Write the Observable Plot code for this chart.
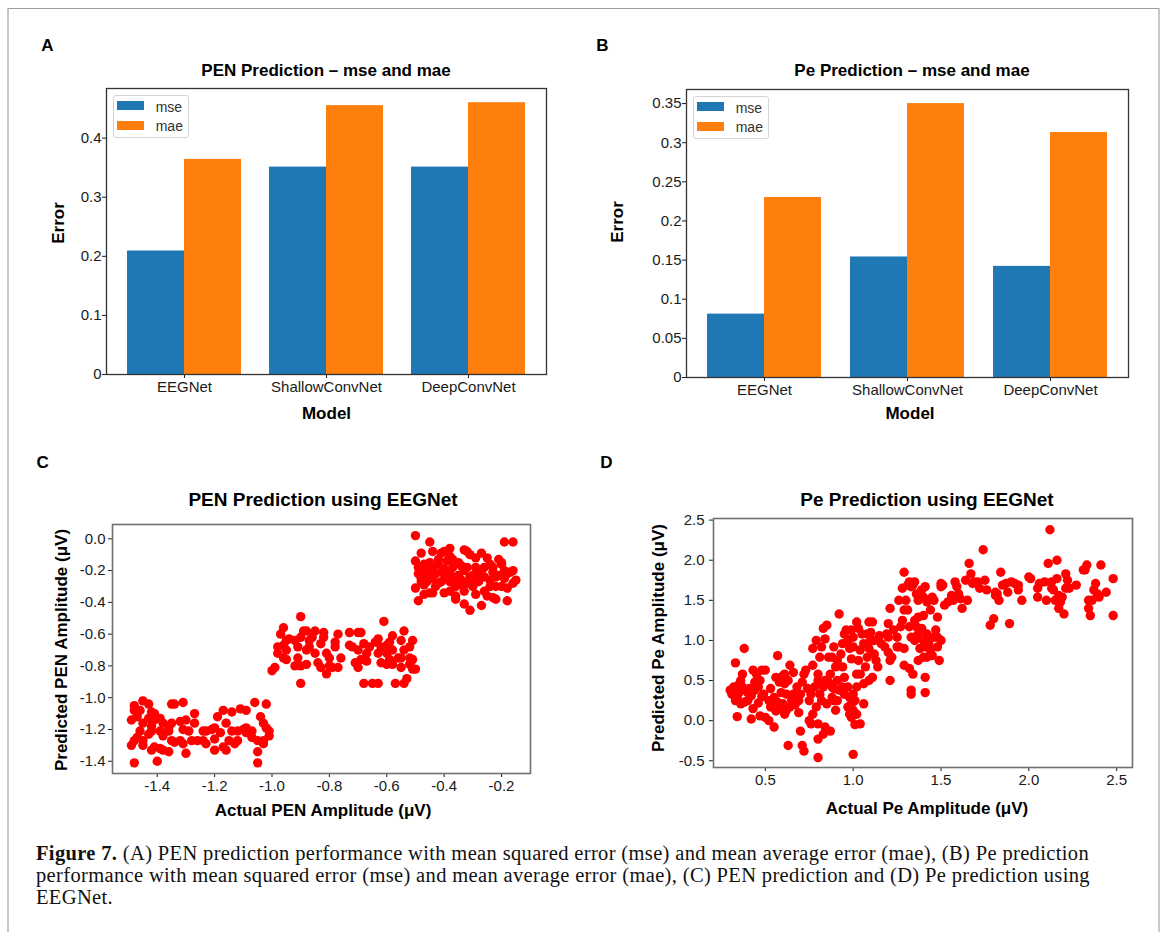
<!DOCTYPE html>
<html><head><meta charset="utf-8">
<script src="https://cdn.jsdelivr.net/npm/d3@7"></script>
<script src="https://cdn.jsdelivr.net/npm/@observablehq/plot@0.6"></script>
<style>
body{margin:0;background:#fff;}
#fig{position:relative;width:1167px;height:932px;background:#fff;overflow:hidden;font-family:"Liberation Sans",Arial,sans-serif;color:#000;}
.t{position:absolute;white-space:nowrap;line-height:1;}
.cap{position:absolute;left:36px;top:842px;font-family:"Liberation Serif","Times New Roman",serif;font-size:20.5px;line-height:22px;white-space:nowrap;color:#111;letter-spacing:0.35px;}
</style></head><body><div id="fig"></div><script>
// ---------- data ----------
const models = ["EEGNet", "ShallowConvNet", "DeepConvNet"];
const metrics = ["mse", "mae"];
const metricColors = ["#1f77b4", "#ff7f0e"];
const penMse = [0.209, 0.351, 0.351];
const penMae = [0.364, 0.455, 0.460];
const peMse = [0.081, 0.154, 0.142];
const peMae = [0.230, 0.350, 0.313];
const penErrorTicks = [0, 0.1, 0.2, 0.3, 0.4];
const peErrorTicks = [0, 0.05, 0.1, 0.15, 0.2, 0.25, 0.3, 0.35];
const penAmpTicksX = [-1.4, -1.2, -1.0, -0.8, -0.6, -0.4, -0.2];
const penAmpTicksY = [0, -0.2, -0.4, -0.6, -0.8, -1.0, -1.2, -1.4];
const peAmpTicksX = [0.5, 1.0, 1.5, 2.0, 2.5];
const peAmpTicksY = [2.5, 2.0, 1.5, 1.0, 0.5, 0.0, -0.5];

// PEN: [actual, predicted]
const penPoints = [
[-1.48,-1.41],[-1.40,-1.40],[-1.49,-1.30],[-1.49,-1.14],[-1.48,-1.08],[-1.48,-1.05],[-1.45,-1.02],[-1.43,-1.04],[-1.46,-1.08],[-1.47,-1.12],
[-1.45,-1.16],[-1.43,-1.13],[-1.42,-1.09],[-1.41,-1.10],[-1.46,-1.21],[-1.47,-1.25],[-1.48,-1.27],[-1.45,-1.27],[-1.45,-1.30],[-1.43,-1.23],
[-1.42,-1.18],[-1.42,-1.21],[-1.41,-1.14],[-1.39,-1.13],[-1.38,-1.16],[-1.39,-1.21],[-1.36,-1.19],[-1.36,-1.21],[-1.38,-1.24],[-1.42,-1.33],
[-1.41,-1.31],[-1.39,-1.32],[-1.38,-1.33],[-1.36,-1.34],[-1.35,-1.16],[-1.35,-1.04],[-1.34,-1.04],[-1.31,-1.03],[-1.32,-1.15],[-1.30,-1.14],
[-1.31,-1.20],[-1.29,-1.21],[-1.28,-1.27],[-1.27,-1.10],[-1.27,-1.16],[-1.30,-1.35],[-1.34,-1.28],[-1.32,-1.27],[-1.31,-1.29],[-1.35,-1.27],
[-1.26,-1.27],[-1.24,-1.27],[-1.23,-1.29],[-1.24,-1.21],[-1.23,-1.21],[-1.21,-1.20],[-1.20,-1.19],[-1.20,-1.26],[-1.19,-1.12],[-1.17,-1.08],
[-1.14,-1.09],[-1.16,-1.16],[-1.14,-1.21],[-1.15,-1.27],[-1.16,-1.33],[-1.13,-1.29],[-1.12,-1.27],[-1.12,-1.21],[-1.11,-1.07],[-1.09,-1.08],
[-1.09,-1.19],[-1.07,-1.25],[-1.06,-1.03],[-1.02,-1.04],[-1.04,-1.12],[-1.03,-1.16],[-1.02,-1.19],[-1.01,-1.21],[-1.01,-1.24],[-1.03,-1.27],
[-1.03,-1.29],[-1.05,-1.34],[-1.05,-1.41],[-1.09,-1.22],[-1.05,-1.27],[-1.07,-1.21],[-1.10,-1.20],[-1.18,-1.22],[-1.17,-1.31],[-1.20,-1.33],
[-1.00,-0.83],[-0.99,-0.81],[-0.98,-0.68],[-0.96,-0.67],[-0.95,-0.64],[-0.96,-0.56],[-0.97,-0.60],[-0.98,-0.72],[-0.96,-0.75],[-0.95,-0.76],
[-0.95,-0.70],[-0.94,-0.63],[-0.92,-0.64],[-0.91,-0.68],[-0.90,-0.49],[-0.91,-0.75],[-0.92,-0.80],[-0.90,-0.62],[-0.89,-0.58],[-0.88,-0.58],
[-0.87,-0.64],[-0.88,-0.70],[-0.87,-0.68],[-0.86,-0.62],[-0.85,-0.72],[-0.84,-0.78],[-0.88,-0.79],[-0.90,-0.80],[-0.90,-0.91],[-0.85,-0.58],
[-0.83,-0.66],[-0.82,-0.62],[-0.82,-0.59],[-0.81,-0.72],[-0.80,-0.75],[-0.78,-0.65],[-0.78,-0.68],[-0.77,-0.60],[-0.79,-0.81],[-0.77,-0.81],
[-0.81,-0.85],[-0.80,-0.80],[-0.83,-0.81],[-0.76,-0.75],[-0.73,-0.59],[-0.73,-0.67],[-0.70,-0.59],[-0.69,-0.59],[-0.72,-0.68],[-0.70,-0.70],
[-0.68,-0.66],[-0.67,-0.72],[-0.69,-0.76],[-0.70,-0.81],[-0.71,-0.78],[-0.67,-0.77],[-0.68,-0.91],[-0.65,-0.91],[-0.63,-0.91],[-0.66,-0.68],
[-0.64,-0.65],[-0.63,-0.63],[-0.62,-0.68],[-0.61,-0.52],[-0.62,-0.78],[-0.63,-0.72],[-0.60,-0.72],[-0.60,-0.67],[-0.58,-0.70],[-0.58,-0.61],
[-0.58,-0.79],[-0.57,-0.91],[-0.56,-0.75],[-0.55,-0.64],[-0.55,-0.75],[-0.54,-0.58],[-0.54,-0.70],[-0.53,-0.88],[-0.54,-0.91],[-0.52,-0.79],
[-0.52,-0.75],[-0.51,-0.64],[-0.51,-0.76],[-0.50,-0.82],[-0.51,-0.82],[-0.52,-0.68],[-0.55,-0.81],[-0.59,-0.76],[-0.60,-0.79],[-0.59,-0.65],
[-0.50,0.02],[-0.45,-0.02],[-0.44,-0.08],[-0.48,-0.09],[-0.50,-0.14],[-0.49,-0.18],[-0.49,-0.22],[-0.48,-0.27],[-0.50,-0.31],[-0.49,-0.39],
[-0.47,-0.35],[-0.45,-0.34],[-0.47,-0.24],[-0.48,-0.20],[-0.47,-0.16],[-0.45,-0.15],[-0.45,-0.19],[-0.44,-0.25],[-0.43,-0.22],[-0.42,-0.28],
[-0.44,-0.34],[-0.42,-0.13],[-0.41,-0.09],[-0.40,-0.08],[-0.39,-0.14],[-0.38,-0.06],[-0.38,-0.11],[-0.40,-0.19],[-0.39,-0.25],[-0.41,-0.27],
[-0.40,-0.34],[-0.38,-0.33],[-0.37,-0.24],[-0.37,-0.18],[-0.36,-0.38],[-0.36,-0.30],[-0.35,-0.23],[-0.34,-0.26],[-0.34,-0.17],[-0.33,-0.20],
[-0.33,-0.07],[-0.32,-0.08],[-0.31,-0.10],[-0.31,-0.24],[-0.32,-0.28],[-0.33,-0.33],[-0.33,-0.41],[-0.31,-0.45],[-0.30,-0.30],[-0.30,-0.23],
[-0.29,-0.18],[-0.29,-0.12],[-0.27,-0.20],[-0.28,-0.27],[-0.27,-0.42],[-0.26,-0.33],[-0.26,-0.24],[-0.25,-0.12],[-0.24,-0.16],[-0.24,-0.26],
[-0.23,-0.21],[-0.23,-0.37],[-0.22,-0.38],[-0.22,-0.30],[-0.21,-0.23],[-0.20,-0.16],[-0.20,-0.15],[-0.19,-0.20],[-0.19,-0.25],[-0.18,-0.31],
[-0.18,-0.39],[-0.17,-0.21],[-0.16,-0.20],[-0.15,-0.26],[-0.16,-0.28],[-0.19,-0.02],[-0.16,-0.02],[-0.21,-0.13],[-0.23,-0.18],[-0.29,-0.35],
[-0.37,-0.13],[-0.41,-0.21],[-0.42,-0.16],[-0.46,-0.27],[-0.47,-0.29],[-0.38,-0.20],[-0.36,-0.27],[-0.36,-0.36],[-0.27,-0.09],[-0.25,-0.36],
[-0.20,-0.30],[-0.46,-0.21],[-0.43,-0.30],[-0.35,-0.15],[-0.32,-0.18],[-0.30,-0.26],[-0.26,-0.18],[-0.22,-0.24],[-0.18,-0.22],[-0.48,-0.25],
[-0.40,-0.22],[-0.34,-0.29],[-0.28,-0.22],[-0.24,-0.30],[-0.44,-0.18],[-0.38,-0.27]
];

// Pe: [actual, predicted]
const pePoints = [
[0.30,0.38],[0.31,0.33],[0.32,0.42],[0.33,0.25],[0.34,0.29],[0.35,0.35],[0.36,0.21],[0.34,0.05],[0.33,0.72],[0.37,0.42],
[0.37,0.58],[0.38,0.90],[0.39,0.38],[0.40,0.35],[0.40,0.25],[0.41,0.40],[0.42,0.31],[0.36,0.50],[0.38,0.23],[0.43,0.63],
[0.44,0.48],[0.45,0.58],[0.46,0.42],[0.47,0.50],[0.48,0.63],[0.49,0.33],[0.50,0.63],[0.42,0.02],[0.43,0.15],[0.47,0.06],
[0.50,0.04],[0.52,0.00],[0.55,-0.08],[0.52,0.25],[0.53,0.17],[0.55,0.29],[0.56,0.54],[0.57,0.81],[0.58,0.48],[0.59,0.35],
[0.60,0.56],[0.61,0.46],[0.61,0.58],[0.62,0.33],[0.60,0.21],[0.61,0.08],[0.57,0.23],[0.64,0.17],[0.65,0.25],[0.66,0.33],
[0.68,0.42],[0.63,0.50],[0.66,0.60],[0.64,0.69],[0.62,0.13],[0.69,0.25],[0.70,0.33],[0.71,0.48],[0.72,0.58],[0.73,0.63],
[0.74,0.40],[0.75,0.25],[0.76,0.33],[0.77,0.69],[0.78,0.42],[0.71,-0.31],[0.72,-0.38],[0.70,-0.13],[0.75,0.00],[0.77,0.08],
[0.76,-0.04],[0.79,0.17],[0.80,0.50],[0.80,0.58],[0.81,0.33],[0.82,0.25],[0.83,0.42],[0.84,0.50],[0.63,-0.31],[0.80,-0.46],
[0.33,0.40],[0.35,0.45],[0.44,0.38],[0.48,0.30],[0.53,0.40],[0.56,0.12],[0.58,0.15],[0.67,0.20],[0.69,0.10],[0.46,0.22],
[0.77,0.90],[0.79,1.00],[0.81,0.79],[0.82,0.92],[0.83,1.15],[0.85,1.19],[0.84,1.02],[0.86,0.79],[0.87,0.58],[0.88,0.42],
[0.89,0.25],[0.90,0.13],[0.85,0.21],[0.84,-0.08],[0.80,-0.04],[0.80,-0.23],[0.83,-0.17],[0.87,-0.13],[0.89,0.40],[0.91,0.50],
[0.92,1.33],[0.91,0.75],[0.93,0.83],[0.94,0.96],[0.95,1.08],[0.96,1.13],[0.97,1.00],[0.98,0.90],[0.99,0.77],[0.90,0.67],
[0.89,0.92],[0.88,0.79],[0.94,0.67],[0.95,0.54],[0.97,0.42],[0.98,0.29],[0.99,0.21],[1.00,0.13],[1.00,0.33],[1.01,0.25],
[1.02,0.08],[1.01,-0.05],[1.04,-0.04],[1.06,0.21],[1.00,-0.42],[1.02,0.58],[1.03,0.75],[1.04,0.88],[1.06,0.96],[1.05,1.08],
[1.02,1.23],[1.03,1.15],[0.99,1.13],[1.00,1.04],[1.00,0.92],[0.94,0.42],[0.91,0.25],[0.86,0.48],[0.88,0.29],[0.92,0.38],
[0.95,0.33],[0.97,0.17],[0.98,0.08],[0.99,0.04],[1.02,0.42],[1.04,0.58],[1.07,0.67],[1.08,0.79],[1.09,0.90],[1.10,1.00],
[1.09,1.23],[1.11,1.23],[1.10,1.10],[1.12,0.83],[1.13,0.75],[1.14,0.67],[1.09,0.50],[1.11,0.54],[1.06,0.46],[1.08,1.08],
[1.12,1.00],
[1.15,1.06],[1.16,0.96],[1.18,0.92],[1.19,1.08],[1.20,1.04],[1.21,1.40],[1.20,1.21],[1.21,0.75],[1.22,0.79],[1.21,0.50],
[1.20,0.85],[1.23,1.13],[1.25,1.04],[1.26,0.92],[1.27,1.17],[1.28,1.25],[1.29,1.38],[1.30,1.50],[1.31,1.69],[1.32,1.73],
[1.33,1.67],[1.29,1.85],[1.31,1.38],[1.34,1.69],[1.35,1.73],[1.32,1.17],[1.33,1.04],[1.35,1.25],[1.36,1.17],[1.37,1.08],
[1.39,1.15],[1.40,1.00],[1.41,0.92],[1.42,1.08],[1.43,0.96],[1.44,0.88],[1.46,1.04],[1.47,1.13],[1.48,0.92],[1.49,0.75],
[1.50,1.00],[1.48,1.29],[1.44,1.38],[1.40,1.54],[1.39,1.63],[1.37,1.50],[1.36,1.58],[1.41,1.67],[1.42,1.48],[1.45,1.54],
[1.46,1.50],[1.50,1.67],[1.32,0.65],[1.34,0.58],[1.33,0.38],[1.33,0.33],[1.37,0.75],[1.41,0.54],[1.41,0.35],[1.29,0.69],
[1.25,0.92],[1.29,0.90],[1.38,0.90],[1.35,1.00],[1.40,0.79],[1.42,0.79],[1.45,0.81],[1.48,1.04],[1.43,1.00],[1.37,1.29],
[1.40,1.31],[1.26,1.50],[1.28,1.65],
[1.50,1.71],[1.51,1.69],[1.52,1.44],[1.54,1.48],[1.56,1.56],[1.57,1.50],[1.58,1.73],[1.59,1.67],[1.60,1.58],[1.61,1.52],
[1.62,1.40],[1.64,1.75],[1.65,1.50],[1.66,1.96],[1.67,1.83],[1.68,1.71],[1.69,1.73],[1.71,1.73],[1.72,1.65],[1.74,2.13],
[1.75,1.75],[1.76,1.63],[1.78,1.19],[1.80,1.27],[1.81,1.56],[1.81,1.60],[1.82,1.58],[1.83,1.50],[1.84,1.85],[1.85,1.69],
[1.87,1.71],[1.88,1.60],[1.89,1.21],[1.90,1.73],[1.92,1.71],[1.94,1.69],[2.00,1.79],[2.01,1.77],[2.05,1.54],[2.06,1.71],
[2.09,1.73],[2.11,1.96],[2.12,2.38],[2.13,1.65],[2.14,1.63],[2.15,1.50],[2.16,2.00],[2.17,1.40],[2.18,1.48],[2.19,1.54],
[2.20,1.33],[2.21,1.65],[2.16,1.77],[2.17,1.56],[2.22,1.75],[2.23,1.65],[2.27,1.69],[2.31,1.88],[2.33,1.94],[2.34,1.40],
[2.35,1.31],[2.36,1.50],[2.37,1.63],[2.39,1.58],[2.40,1.54],[2.41,1.94],[2.44,1.60],[2.48,1.77],[2.48,1.31],[2.38,1.71],
[2.34,1.50],[2.32,1.88],[2.21,1.83],[2.10,1.50],[2.05,1.65],[2.13,1.73],[1.94,1.63],[1.96,1.50]
];

// ---------- layout helpers ----------
const fig = document.getElementById("fig");
const SANS = '"Liberation Sans", Arial, Helvetica, sans-serif';
function text(str, x, y, size, opts = {}) {
  const d = document.createElement("div");
  d.className = "t";
  d.textContent = str;
  d.style.fontSize = size + "px";
  d.style.fontWeight = opts.weight || "bold";
  d.style.color = opts.color || "#000";
  d.style.left = x + "px";
  d.style.top = y + "px";
  const tx = opts.anchor === "start" ? "0" : "-50%";
  d.style.transform = `translate(${tx},-50%)` + (opts.rotate ? " rotate(-90deg)" : "");
  fig.appendChild(d);
  return d;
}
function box(x, y, w, h, css) {
  const d = document.createElement("div");
  d.style.position = "absolute";
  d.style.left = x + "px"; d.style.top = y + "px";
  d.style.width = w + "px"; d.style.height = h + "px";
  Object.assign(d.style, css);
  fig.appendChild(d);
  return d;
}
function put(svg, left, top) {
  svg.style.position = "absolute";
  svg.style.left = left + "px";
  svg.style.top = top + "px";
  fig.appendChild(svg);
}

// outer figure border
box(7, 8, 1153, 1000, {borderTop: "1.5px solid #9c9c9c", borderLeft: "2px solid #c6c6c6", borderRight: "2px solid #c8c8c8", boxSizing: "border-box"});

const axisStyle = {fontFamily: SANS, fontSize: "15px", color: "#1a1a1a", background: "transparent", overflow: "visible"};

function barPanel({left, top, width, height, yMax, yTicks, mse, mae}) {
  const rows = models.map((m, i) => ({model: m, mse: mse[i], mae: mae[i]}));
  const base = {
    width, height, marginLeft: 60, marginRight: 20, marginTop: 8, marginBottom: 36,
    x: {domain: models, paddingInner: 0.2, paddingOuter: 0.14, label: null, tickSize: 4, tickPadding: 3},
    y: {domain: [0, yMax], ticks: yTicks, tickFormat: d => String(+d.toFixed(2)), tickSize: 4, tickPadding: 1, label: null},
    style: axisStyle
  };
  const probe = Plot.plot({...base, marks: [Plot.barY(rows, {x: "model", y: "mse"})]});
  const half = probe.scale("x").bandwidth / 2;
  const chart = Plot.plot({...base, marks: [
    Plot.barY(rows, {x: "model", y: "mse", fill: metricColors[0], insetRight: half}),
    Plot.barY(rows, {x: "model", y: "mae", fill: metricColors[1], insetLeft: half}),
    Plot.frame({stroke: "#333", strokeWidth: 1.3})
  ]});
  put(chart, left, top);
  // legend inside the frame (upper left)
  const fx = left + 60, fy = top + 8;
  box(fx + 6.7, fy + 6.7, 76, 43, {border: "1px solid #d4d4d4", borderRadius: "3px", background: "rgba(255,255,255,0.85)", boxSizing: "border-box"});
  metrics.forEach((m, i) => {
    box(fx + 11.3, fy + 13.4 + i * 20, 26.7, 8.5, {background: metricColors[i]});
    text(m, fx + 49.7, fy + 19 + i * 19.4, 14, {weight: "normal", color: "#333", anchor: "start"});
  });
}

function scatterPanel({left, top, width, height, xDomain, yDomain, xTicks, yTicks, points, yPad}) {
  const chart = Plot.plot({
    width, height, marginLeft: 60, marginRight: 20, marginTop: 8, marginBottom: 33,
    x: {domain: xDomain, ticks: xTicks, tickFormat: d => d.toFixed(1), tickSize: 4, tickPadding: 3, label: null},
    y: {domain: yDomain, ticks: yTicks, tickFormat: d => d.toFixed(1), tickSize: 4, tickPadding: yPad, label: null},
    style: axisStyle,
    marks: [
      Plot.dot(points, {x: d => d[0], y: d => d[1], r: 4.7, fill: "#ff0000"}),
      Plot.frame({stroke: "#707070", strokeWidth: 1.6})
    ]
  });
  put(chart, left, top);
}

// ---------- Panel A ----------
barPanel({left: 46, top: 80, width: 520, height: 330, yMax: 0.484, yTicks: penErrorTicks, mse: penMse, mae: penMae});
text("A", 47.5, 45, 17);
text("PEN Prediction \u2013 mse and mae", 326, 70, 17);
text("Error", 58.3, 223, 17, {rotate: true});
text("Model", 326.5, 413, 17);

// ---------- Panel B ----------
barPanel({left: 626, top: 81, width: 522, height: 332, yMax: 0.368, yTicks: peErrorTicks, mse: peMse, mae: peMae});
text("B", 602.5, 45, 17);
text("Pe Prediction \u2013 mse and mae", 912, 70, 17);
text("Error", 617, 222, 17, {rotate: true});
text("Model", 910, 413, 17);

// ---------- Panel C ----------
scatterPanel({left: 52, top: 516, width: 498, height: 290, xDomain: [-1.556, -0.099], yDomain: [-1.477, 0.09],
  xTicks: penAmpTicksX, yTicks: penAmpTicksY, points: penPoints, yPad: 3});
text("C", 42.7, 462, 17);
text("PEN Prediction using EEGNet", 323, 499, 19);
text("Predicted PEN Amplitude (\u03bcV)", 61, 650, 17, {rotate: true});
text("Actual PEN Amplitude (\u03bcV)", 323, 810, 17);

// ---------- Panel D ----------
scatterPanel({left: 653, top: 510, width: 499, height: 290, xDomain: [0.205, 2.59], yDomain: [-0.584, 2.52],
  xTicks: peAmpTicksX, yTicks: peAmpTicksY, points: pePoints, yPad: 5});
text("D", 606.5, 461.5, 17);
text("Pe Prediction using EEGNet", 927, 499, 19);
text("Predicted Pe Amplitude (\u03bcV)", 658, 638, 17, {rotate: true});
text("Actual Pe Amplitude (\u03bcV)", 927, 808, 17);

// ---------- caption ----------
const cap = document.createElement("div");
cap.className = "cap";
cap.innerHTML =
  '<div><b>Figure 7.</b> (A) PEN prediction performance with mean squared error (mse) and mean average error (mae), (B) Pe prediction</div>' +
  '<div>performance with mean squared error (mse) and mean average error (mae), (C) PEN prediction and (D) Pe prediction using</div>' +
  '<div>EEGNet.</div>';
fig.appendChild(cap);
</script></body></html>
